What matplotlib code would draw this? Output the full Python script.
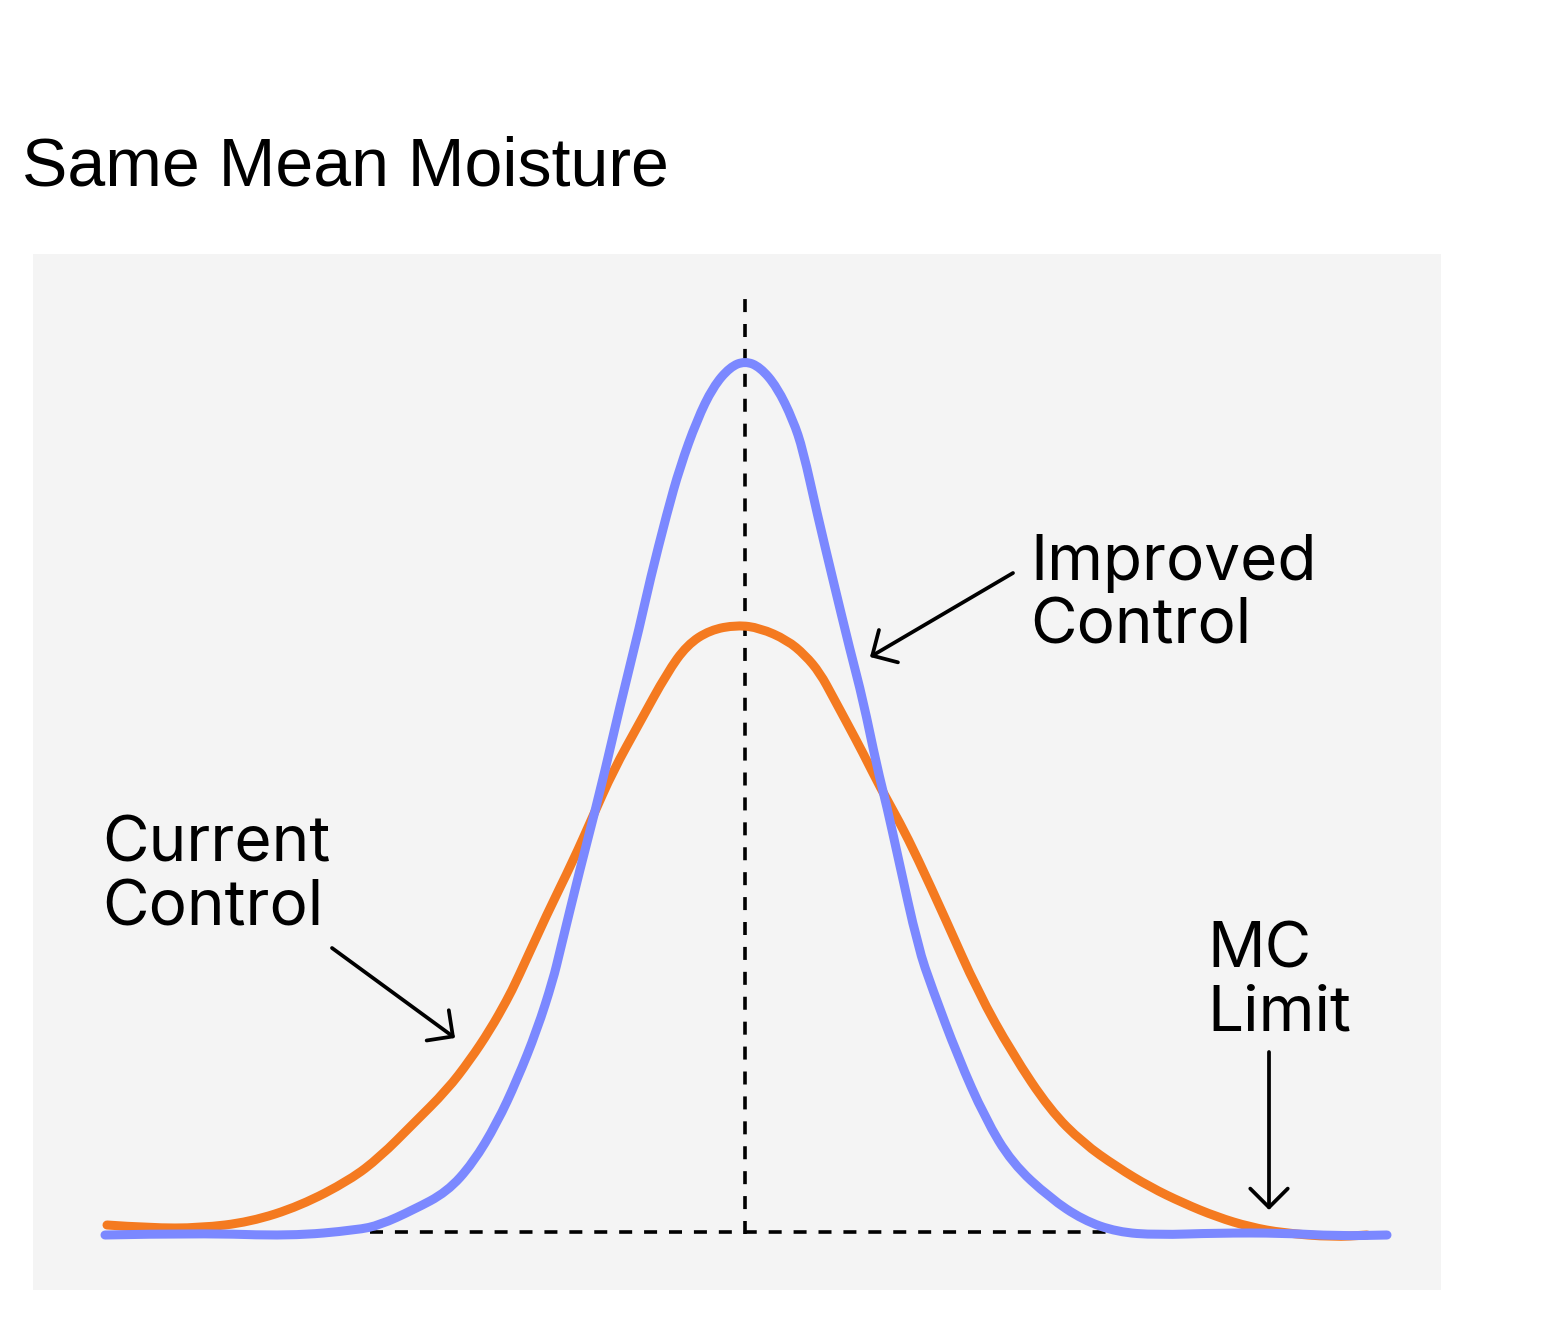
import numpy as np
import matplotlib.pyplot as plt
from matplotlib.path import Path
from matplotlib.patches import PathPatch

# Distribution curves: x = moisture offset from the mean, y = relative frequency
current_x = [-63.8, -59.5, -54.5, -49.5, -44.5, -39.5, -36.5, -33.2, -29.8, -27.5, -25.5,
             -23.8, -22.8, -19.8, -17.2, -15.2, -13.2, -10.5, -7.8, -5.8, -3.5, -0.8,
             1.5, 4.2, 6.0, 7.5, 8.8, 10.2, 11.8, 13.5, 15.5, 17.2, 20.0, 23.3, 26.7,
             30.5, 33.8, 37.2, 40.5, 43.8, 47.2, 50.5, 53.8, 58.8, 62.2]
current_y = [0.9, 0.6, 0.6, 1.2, 2.8, 5.4, 7.7, 11.0, 14.4, 17.4, 20.4,
             23.4, 25.4, 32.0, 37.3, 41.8, 46.3, 51.2, 56.1, 58.9, 60.4, 60.9,
             60.6, 59.4, 57.9, 56.1, 53.7, 51.1, 48.1, 44.7, 41.1, 37.7, 31.6, 24.2, 18.1,
             12.4, 9.1, 6.7, 4.7, 3.1, 1.7, 0.7, 0.1, -0.3, -0.1]

improved_x = [-64.0, -54.5, -45.5, -38.8, -36.5, -33.2, -29.8, -27.2, -24.8, -22.8, -20.8,
              -19.2, -18.5, -16.5, -14.5, -12.5, -10.5, -9.5, -7.8, -6.5, -4.8, -3.2, -1.5,
              0.0, 1.5, 3.2, 4.8, 5.8, 7.2, 8.8, 10.5, 11.8, 13.2, 14.2, 15.3, 17.3, 18.7,
              21.3, 24.0, 26.7, 30.5, 33.8, 37.2, 41.2, 47.2, 53.8, 59.2, 64.2]
improved_y = [-0.1, 0.1, -0.2, 0.4, 0.9, 2.4, 4.2, 7.1, 11.1, 15.4, 20.4,
              25.4, 28.3, 36.5, 44.2, 52.8, 60.9, 65.4, 72.1, 76.7, 81.4, 84.7, 86.7,
              87.3, 86.7, 84.7, 81.4, 78.4, 72.1, 65.4, 58.4, 53.4, 46.7, 42.7, 37.7, 28.7, 24.6,
              17.7, 11.6, 7.1, 3.6, 1.4, 0.2, -0.1, 0.1, 0.1, -0.2, -0.1]

mean_x = 0.0
mean_top = 93.7
base_span = [-37.5, 36.5]

title = 'Same Mean Moisture'
label_improved = 'Improved\nControl'
label_current = 'Current\nControl'
label_limit = 'MC\nLimit'

blue = '#7b88ff'
orange = '#f47a20'


def smooth_path(xs, ys):
    # квадратичный B-сплайн: точки как контрольные, кривая идет через середины
    pts = list(zip(xs, ys))
    verts = [pts[0]]
    codes = [Path.MOVETO]
    for i in range(1, len(pts) - 1):
        mid = ((pts[i][0] + pts[i + 1][0]) / 2, (pts[i][1] + pts[i + 1][1]) / 2)
        verts += [pts[i], mid]
        codes += [Path.CURVE3, Path.CURVE3]
    verts.append(pts[-1])
    codes.append(Path.LINETO)
    return Path(verts, codes)


fig = plt.figure(figsize=(15.65, 13.19), dpi=100)
ax = fig.add_axes([33 / 1565, 29 / 1319, 1408 / 1565, 1036 / 1319])
ax.set_facecolor('#f4f4f4')
for s in ax.spines.values():
    s.set_visible(False)
ax.set_xticks([])
ax.set_yticks([])
ax.set_xlim(-71.2, 69.6)
ax.set_ylim(-5.6, 98.0)

# dashed mean line and baseline
ax.plot([mean_x, mean_x], [0, mean_top], color='black', lw=2.6,
        dashes=(3.6, 3.3), zorder=2)
ax.plot(base_span, [0.2, 0.2], color='black', lw=2.6,
        dashes=(3.6, 3.3), zorder=2)

ax.add_patch(PathPatch(smooth_path(current_x, current_y), facecolor='none',
                       edgecolor=orange, lw=6.5, capstyle='round',
                       joinstyle='round', zorder=3))
ax.add_patch(PathPatch(smooth_path(improved_x, improved_y), facecolor='none',
                       edgecolor=blue, lw=6.5, capstyle='round',
                       joinstyle='round', zorder=4))

arrow = dict(arrowstyle='->,head_length=0.45,head_width=0.45', color='black',
             lw=2.7, mutation_scale=30, shrinkA=0, shrinkB=0)
ax.annotate('', xy=(12.5, 57.7), xytext=(26.8, 66.1), arrowprops=arrow)
ax.annotate('', xy=(-29.0, 19.6), xytext=(-41.3, 28.6), arrowprops=arrow)
ax.annotate('', xy=(52.4, 2.4), xytext=(52.4, 18.2), arrowprops=arrow)

tfont = dict(family=['Inter', 'DejaVu Sans'], fontsize=46, color='black',
             linespacing=1.09, va='top', ha='left')
ax.text(28.5, 70.0, label_improved, **tfont)
ax.text(-64.3, 41.8, label_current, **tfont)
ax.text(46.2, 31.3, label_limit, **tfont)

fig.text(22 / 1565, 1 - 136 / 1319, title, family=['Liberation Sans', 'DejaVu Sans'],
         fontsize=49, va='top', ha='left')

fig.savefig('out.png', dpi=100, facecolor='white')
